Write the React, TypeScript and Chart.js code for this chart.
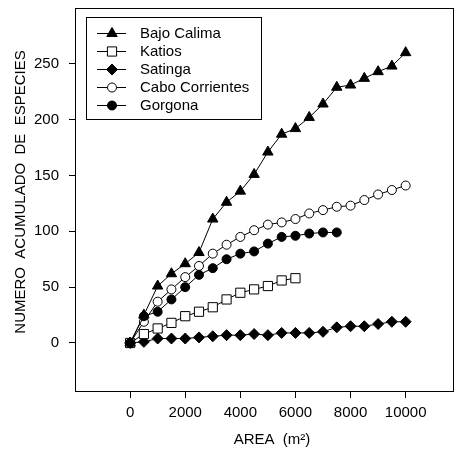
import React, { useEffect, useRef } from "react";
import { Chart, registerables } from "chart.js";

Chart.register(...registerables);

// ---- data ----
const areaFull = [0, 500, 1000, 1500, 2000, 2500, 3000, 3500, 4000, 4500, 5000, 5500, 6000, 6500, 7000, 7500, 8000, 8500, 9000, 9500, 10000];
const areaGorgona = [0, 500, 1000, 1500, 2000, 2500, 3000, 3500, 4000, 4500, 5000, 5500, 6000, 6500, 7000, 7500];
const areaKatios = [0, 500, 1000, 1500, 2000, 2500, 3000, 3500, 4000, 4500, 5000, 5500, 6000];

const bajoCalima = [0, 25, 51, 62, 71, 81, 111, 126, 136, 151, 171, 187, 192, 202, 214, 229, 231, 237, 243, 248, 260];
const katios = [0, 8, 13, 18, 24, 28, 32, 39, 45, 48, 51, 56, 58];
const satinga = [0, 1, 4, 4, 4, 5, 6, 7, 7, 8, 7, 9, 9, 9, 10, 14, 15, 15, 17, 19, 19];
const caboCorrientes = [0, 19, 37, 48, 59, 69, 80, 88, 95, 101, 106, 108, 111, 116, 119, 122, 123, 128, 133, 137, 141];
const gorgona = [0, 24, 28, 39, 50, 61, 67, 75, 80, 82, 89, 95, 96, 98, 99, 99];

const xTicks = [0, 2000, 4000, 6000, 8000, 10000];
const yTicks = [0, 50, 100, 150, 200, 250];

const seriesNames = ["Bajo Calima", "Katios", "Satinga", "Cabo Corrientes", "Gorgona"];
const xTitle = "AREA  (m\u00B2)";
const yTitle = "NUMERO  ACUMULADO  DE  ESPECIES";

const FONT = '"Liberation Sans", Arial, sans-serif';

type Marker = { style: string; radius: number; fill: string };
const markers: Marker[] = [
  { style: "triangle", radius: 6, fill: "#000" },
  { style: "rect", radius: 6.5, fill: "#fff" },
  { style: "rectRot", radius: 5.5, fill: "#000" },
  { style: "circle", radius: 4.5, fill: "#fff" },
  { style: "circle", radius: 4.5, fill: "#000" },
];

function drawMarker(ctx: CanvasRenderingContext2D, m: Marker, x: number, y: number) {
  const r = m.radius;
  ctx.beginPath();
  if (m.style === "triangle") {
    ctx.moveTo(x, y - r);
    ctx.lineTo(x + r * 0.866, y + r * 0.5);
    ctx.lineTo(x - r * 0.866, y + r * 0.5);
    ctx.closePath();
  } else if (m.style === "rect") {
    const s = r * Math.SQRT1_2;
    ctx.rect(x - s, y - s, 2 * s, 2 * s);
  } else if (m.style === "rectRot") {
    ctx.moveTo(x, y - r);
    ctx.lineTo(x + r, y);
    ctx.lineTo(x, y + r);
    ctx.lineTo(x - r, y);
    ctx.closePath();
  } else {
    ctx.arc(x, y, r, 0, Math.PI * 2);
  }
  ctx.fillStyle = m.fill;
  ctx.fill();
  ctx.strokeStyle = "#000";
  ctx.lineWidth = 1;
  ctx.stroke();
}

const decorPlugin = {
  id: "decor",
  afterDraw(chart: any) {
    const ctx: CanvasRenderingContext2D = chart.ctx;
    const a = chart.chartArea;
    ctx.save();
    // full frame
    ctx.strokeStyle = "#000";
    ctx.lineWidth = 1;
    ctx.strokeRect(Math.round(a.left) + 0.5, Math.round(a.top) + 0.5, Math.round(a.right - a.left), Math.round(a.bottom - a.top));

    // legend box
    ctx.fillStyle = "#fff";
    ctx.fillRect(86.5, 17.5, 175, 102);
    ctx.strokeRect(86.5, 17.5, 175, 102);
    ctx.font = "15px " + FONT;
    ctx.textBaseline = "middle";
    ctx.textAlign = "left";
    seriesNames.forEach((name, i) => {
      const y = 33 + i * 18;
      ctx.beginPath();
      ctx.moveTo(97, y + 0.5);
      ctx.lineTo(126, y + 0.5);
      ctx.strokeStyle = "#000";
      ctx.lineWidth = 1;
      ctx.stroke();
      drawMarker(ctx, markers[i], 112, y + 0.5);
      ctx.fillStyle = "#000";
      ctx.fillText(name, 140, y + 1);
    });

    // axis titles
    ctx.fillStyle = "#000";
    ctx.font = "15px " + FONT;
    ctx.textAlign = "center";
    ctx.textBaseline = "middle";
    ctx.fillText(xTitle, 272, 440);
    ctx.save();
    ctx.translate(21, 192);
    ctx.rotate(-Math.PI / 2);
    ctx.fillText(yTitle, 0, 0);
    ctx.restore();
    ctx.restore();
  },
};

function toPoints(xs: number[], ys: number[]) {
  return ys.map((y, i) => ({ x: xs[i], y }));
}

export default function App() {
  const ref = useRef<HTMLCanvasElement | null>(null);

  useEffect(() => {
    if (!ref.current) return;
    const seriesData = [
      toPoints(areaFull, bajoCalima),
      toPoints(areaKatios, katios),
      toPoints(areaFull, satinga),
      toPoints(areaFull, caboCorrientes),
      toPoints(areaGorgona, gorgona),
    ];
    const orders = [2, 3, 4, 1, 0];
    const chart = new Chart(ref.current, {
      type: "line",
      data: {
        datasets: seriesNames.map((name, i) => ({
          label: name,
          data: seriesData[i],
          borderColor: "#000",
          borderWidth: 1,
          backgroundColor: markers[i].fill,
          pointStyle: markers[i].style as any,
          pointRadius: markers[i].radius,
          pointHoverRadius: markers[i].radius,
          pointBackgroundColor: markers[i].fill,
          pointBorderColor: "#000",
          pointBorderWidth: 1,
          tension: 0,
          fill: false,
          order: orders[i],
        })),
      },
      options: {
        animation: false,
        responsive: false,
        devicePixelRatio: 1,
        events: [],
        layout: { padding: { top: 8, right: 6, left: 0, bottom: 0 } },
        plugins: {
          legend: { display: false },
          tooltip: { enabled: false },
          title: { display: false },
        },
        scales: {
          x: {
            type: "linear",
            min: -2000,
            max: 11700,
            afterBuildTicks: (s: any) => {
              s.ticks = xTicks.map((v) => ({ value: v }));
            },
            afterFit: (s: any) => {
              s.height = 61;
              s.paddingLeft = 0;
              s.paddingRight = 0;
            },
            ticks: {
              color: "#000",
              font: { size: 15, family: FONT },
              padding: 6,
              maxRotation: 0,
              autoSkip: false,
              callback: (v: any) => String(v),
            },
            grid: {
              display: true,
              drawOnChartArea: false,
              drawTicks: true,
              tickLength: 7,
              color: "#000",
              lineWidth: 1,
            },
            border: { display: true, color: "#000", width: 1 },
            title: { display: false },
          },
          y: {
            type: "linear",
            min: -43,
            max: 300,
            afterBuildTicks: (s: any) => {
              s.ticks = yTicks.map((v) => ({ value: v }));
            },
            afterFit: (s: any) => {
              s.width = 75;
              s.paddingTop = 0;
              s.paddingBottom = 0;
            },
            ticks: {
              color: "#000",
              font: { size: 15, family: FONT },
              padding: 10,
              autoSkip: false,
              callback: (v: any) => String(v),
            },
            grid: {
              display: true,
              drawOnChartArea: false,
              drawTicks: true,
              tickLength: 6,
              color: "#000",
              lineWidth: 1,
            },
            border: { display: true, color: "#000", width: 1 },
            title: { display: false },
          },
        },
      },
      plugins: [decorPlugin],
    });
    return () => chart.destroy();
  }, []);

  return (
    <div style={{ position: "fixed", left: 0, top: 0, width: 460, height: 452, background: "#fff" }}>
      <canvas ref={ref} width={460} height={452} style={{ display: "block" }} />
    </div>
  );
}
